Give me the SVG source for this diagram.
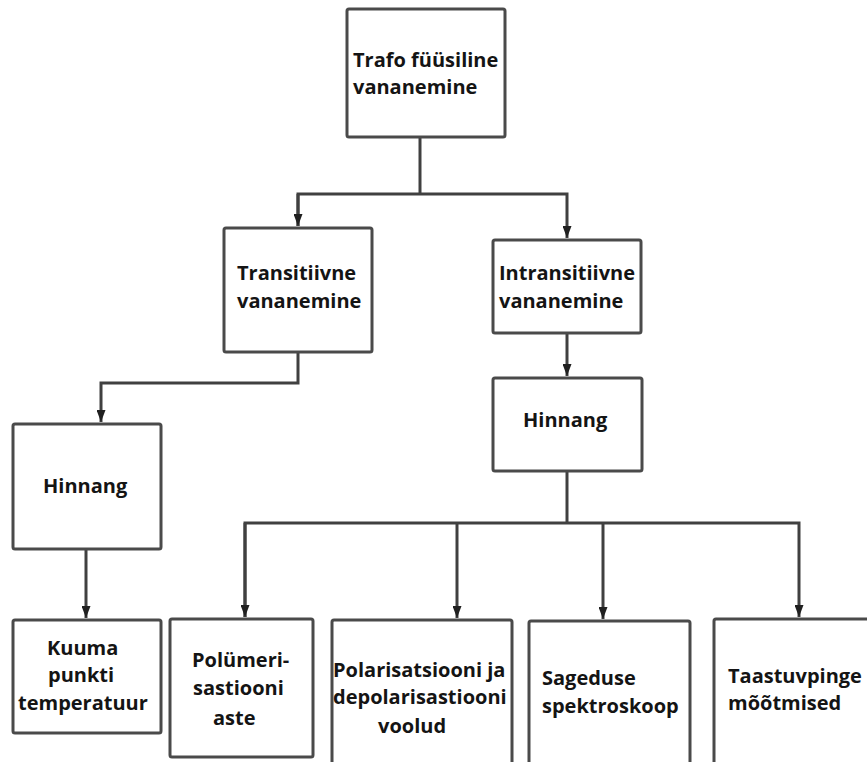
<svg xmlns="http://www.w3.org/2000/svg" width="867" height="762" viewBox="0 0 867 762">
  <style>
    .box { fill: #ffffff; stroke: #4a4a4a; stroke-width: 3; }
    .wire { fill: none; stroke: #404040; stroke-width: 3; }
    .lbl { font-family: "Open Sans", "Liberation Sans", sans-serif; font-weight: 700; font-size: 20px; fill: #141414; }
  </style>
  <defs>
    <marker id="arrow" markerUnits="userSpaceOnUse" markerWidth="10" markerHeight="12" refX="4" refY="11" orient="auto-start-reverse" viewBox="0 0 8 12">
      <path d="M0,0 L8,0 L4,12 Z" fill="#202020" transform="rotate(-90 4 6) translate(-2 2)"/>
    </marker>
    <marker id="tip" markerUnits="userSpaceOnUse" markerWidth="9" markerHeight="12" refX="4.5" refY="12" orient="0" viewBox="0 0 9 12">
      <path d="M0,0 L9,0 L4.5,12 Z" fill="#202020"/>
    </marker>
  </defs>

  <rect width="867" height="762" fill="#ffffff"/>

  <!-- connectors -->
  <g id="connectors">
    <path class="wire" d="M420,137 V194"/>
    <path class="wire" d="M298,226 V194 H567 V238" marker-end="url(#tip)"/>
    <path class="wire" d="M298,194 V226" marker-end="url(#tip)"/>
    <path class="wire" d="M298,352 V383 H101 V422" marker-end="url(#tip)"/>
    <path class="wire" d="M567,333 V376" marker-end="url(#tip)"/>
    <path class="wire" d="M86,549 V618" marker-end="url(#tip)"/>
    <path class="wire" d="M567,471 V523"/>
    <path class="wire" d="M245,617 V523 H799 V617" marker-end="url(#tip)"/>
    <path class="wire" d="M245,523 V617" marker-end="url(#tip)"/>
    <path class="wire" d="M457,523 V618" marker-end="url(#tip)"/>
    <path class="wire" d="M603,523 V619" marker-end="url(#tip)"/>
  </g>

  <g id="trafo">
    <rect class="box" x="347" y="9" width="158" height="128" rx="2"/>
    <text class="lbl" x="353" y="67">Trafo füüsiline</text>
    <text class="lbl" x="353" y="94">vananemine</text>
  </g>

  <g id="transitiivne">
    <rect class="box" x="224" y="228" width="148" height="124" rx="2"/>
    <text class="lbl" x="237" y="280">Transitiivne</text>
    <text class="lbl" x="237" y="308">vananemine</text>
  </g>

  <g id="intransitiivne">
    <rect class="box" x="493" y="240" width="148" height="93" rx="2"/>
    <text class="lbl" x="499" y="280">Intransitiivne</text>
    <text class="lbl" x="499" y="308">vananemine</text>
  </g>

  <g id="hinnang-left">
    <rect class="box" x="13" y="424" width="148" height="125" rx="2"/>
    <text class="lbl" x="43" y="493">Hinnang</text>
  </g>

  <g id="hinnang-right">
    <rect class="box" x="493" y="378" width="149" height="93" rx="2"/>
    <text class="lbl" x="523" y="427">Hinnang</text>
  </g>

  <g id="kuuma">
    <rect class="box" x="13" y="620" width="148" height="113" rx="2"/>
    <text class="lbl" x="47" y="655">Kuuma</text>
    <text class="lbl" x="48" y="682">punkti</text>
    <text class="lbl" x="18" y="710">temperatuur</text>
  </g>

  <g id="polymerisatsioon">
    <rect class="box" x="170" y="619" width="143" height="138" rx="2"/>
    <text class="lbl" x="192" y="667">Polümeri-</text>
    <text class="lbl" x="193" y="695">sastiooni</text>
    <text class="lbl" x="213" y="725">aste</text>
  </g>

  <g id="polarisatsioon">
    <rect class="box" x="332" y="620" width="180" height="150" rx="2"/>
    <text class="lbl" x="333" y="677">Polarisatsiooni ja</text>
    <text class="lbl" x="333" y="704">depolarisastiooni</text>
    <text class="lbl" x="378" y="733">voolud</text>
  </g>

  <g id="sageduse">
    <rect class="box" x="529" y="621" width="161" height="150" rx="2"/>
    <text class="lbl" x="542" y="685">Sageduse</text>
    <text class="lbl" x="542" y="713">spektroskoop</text>
  </g>

  <g id="taastuvpinge">
    <rect class="box" x="714" y="619" width="170" height="152" rx="2"/>
    <text class="lbl" x="728" y="683">Taastuvpinge</text>
    <text class="lbl" x="728" y="710">mõõtmised</text>
  </g>
</svg>
